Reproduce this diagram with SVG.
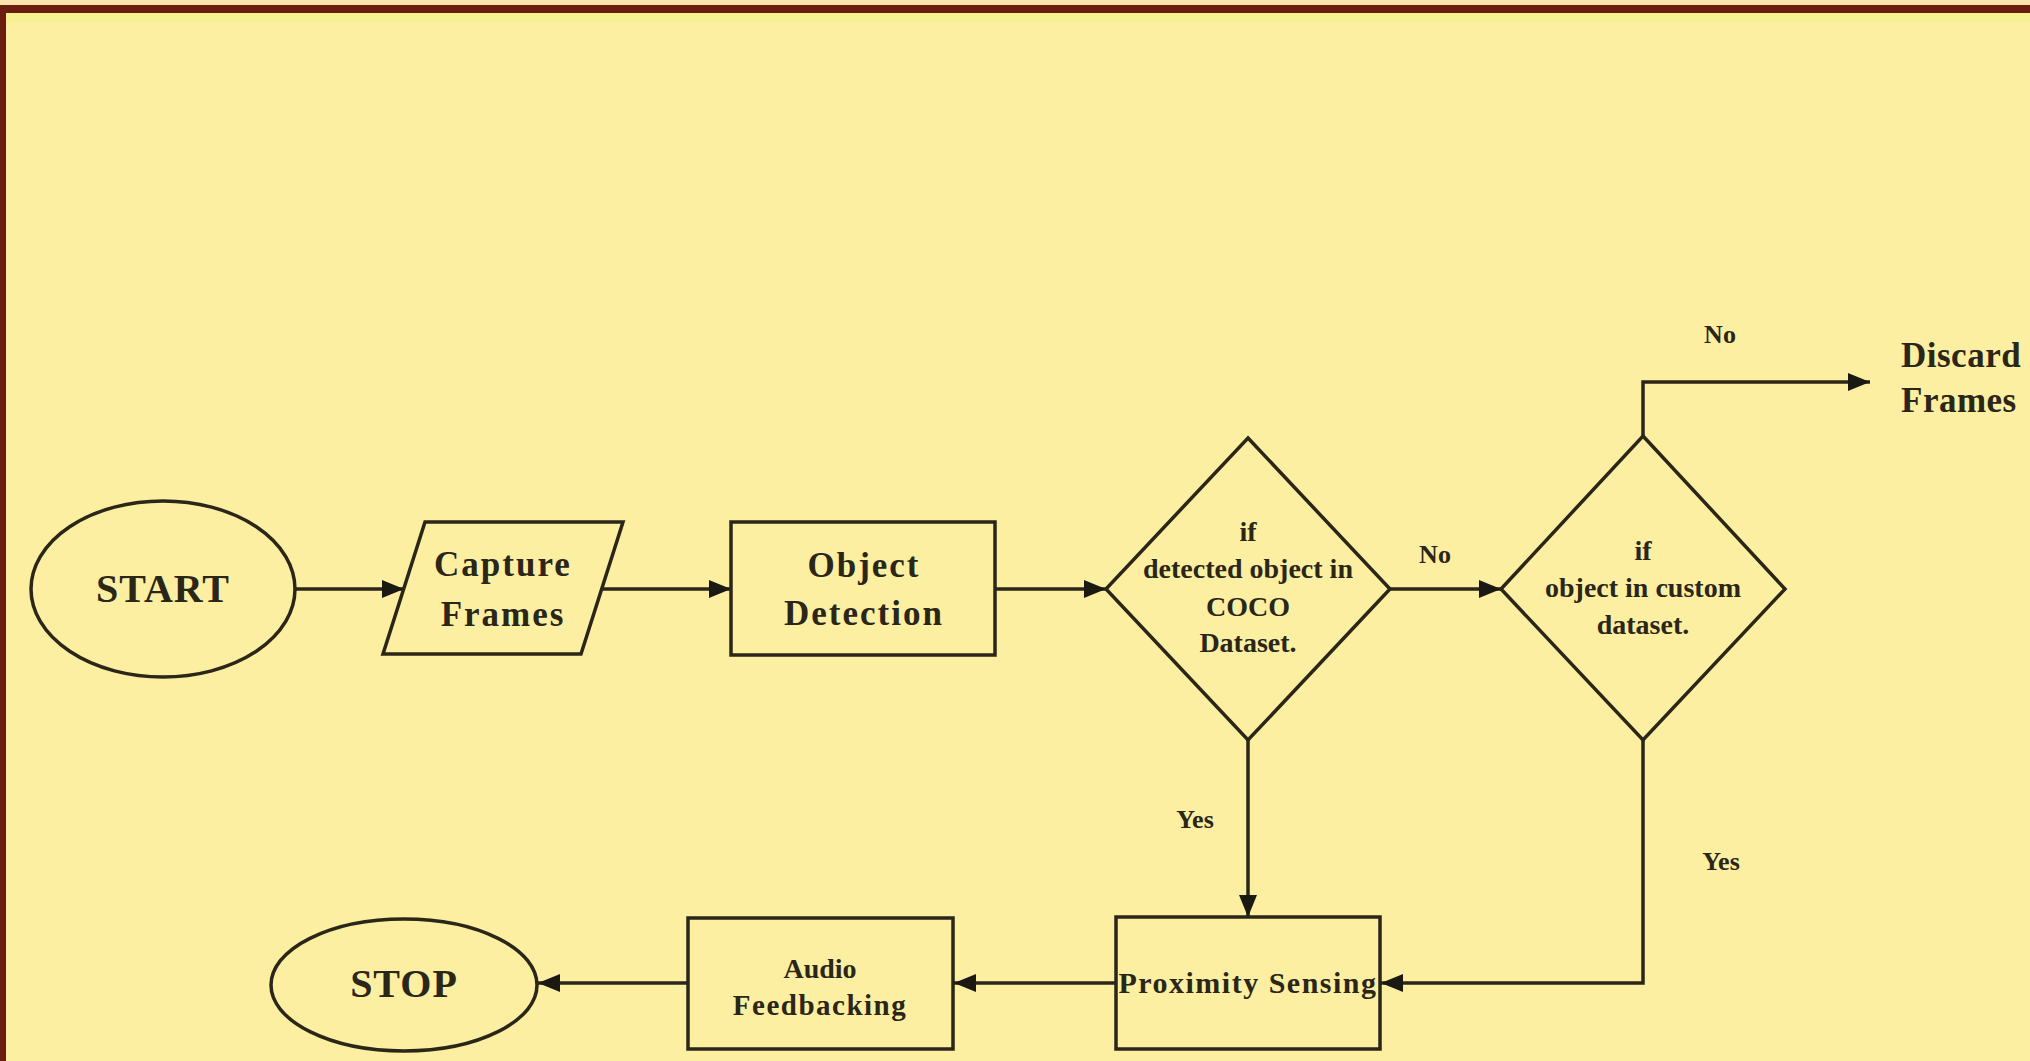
<svg xmlns="http://www.w3.org/2000/svg" width="2030" height="1061" viewBox="0 0 2030 1061">
  <style>
    .shape { fill: none; stroke: #2a2618; stroke-width: 3.5; }
    .conn { fill: none; stroke: #2a2618; stroke-width: 3.5; }
    .t { font-family: "Liberation Serif", "Times New Roman", serif; font-weight: bold; fill: #2a2618; text-anchor: middle; }
    .big { font-size: 40px; letter-spacing: 1px; }
    .mid { font-size: 35px; letter-spacing: 2px; }
    .sm { font-size: 28px; }
    .lbl { font-size: 26px; }
  </style>
  <defs>
    <marker id="arr" markerUnits="userSpaceOnUse" markerWidth="24" markerHeight="20" refX="22" refY="10" orient="auto">
      <path d="M0,1 L22,10 L0,19 Z" fill="#1a1a12"/>
    </marker>
  </defs>
  <rect x="0" y="0" width="2030" height="1061" fill="#FDEFA2"/>
  <rect x="0" y="0" width="2030" height="5" fill="#FBE3AE"/>
  <rect x="0" y="13" width="2030" height="9" fill="#F6F090"/>
  <rect x="0" y="5" width="2030" height="8" fill="#6B1E10"/>
  <rect x="0" y="5" width="6" height="1056" fill="#6B1E10"/>

  <g id="connectors">
    <path class="conn" d="M295,589 H404" marker-end="url(#arr)"/>
    <path class="conn" d="M602,589 H731" marker-end="url(#arr)"/>
    <path class="conn" d="M995,589 H1106" marker-end="url(#arr)"/>
    <path class="conn" d="M1390,589 H1501" marker-end="url(#arr)"/>
    <path class="conn" d="M1643,436 V382 H1870" marker-end="url(#arr)"/>
    <path class="conn" d="M1248,740 V917" marker-end="url(#arr)"/>
    <path class="conn" d="M1643,740 V983 H1381" marker-end="url(#arr)"/>
    <path class="conn" d="M1116,983 H954" marker-end="url(#arr)"/>
    <path class="conn" d="M688,983 H538" marker-end="url(#arr)"/>
    <text class="t lbl" x="1435" y="563">No</text>
    <text class="t lbl" x="1720" y="343">No</text>
    <text class="t lbl" x="1195" y="828">Yes</text>
    <text class="t lbl" x="1721" y="870">Yes</text>
  </g>

  <g id="start">
    <ellipse class="shape" cx="163" cy="589" rx="132" ry="88"/>
    <text class="t big" x="163" y="602">START</text>
  </g>

  <g id="capture">
    <polygon class="shape" points="425,522 623,522 581,654 383,654"/>
    <text class="t mid" x="503" y="576">Capture</text>
    <text class="t mid" x="503" y="626">Frames</text>
  </g>

  <g id="detection">
    <rect class="shape" x="731" y="522" width="264" height="133"/>
    <text class="t mid" x="864" y="577">Object</text>
    <text class="t mid" x="864" y="625">Detection</text>
  </g>

  <g id="coco">
    <polygon class="shape" points="1248,438 1390,589 1248,740 1106,589"/>
    <text class="t sm" x="1248" y="541">if</text>
    <text class="t sm" x="1248" y="578">detected object in</text>
    <text class="t sm" x="1248" y="616">COCO</text>
    <text class="t sm" x="1248" y="652">Dataset.</text>
  </g>

  <g id="custom">
    <polygon class="shape" points="1643,436 1785,589 1643,740 1501,589"/>
    <text class="t sm" x="1643" y="560">if</text>
    <text class="t sm" x="1643" y="597">object in custom</text>
    <text class="t sm" x="1643" y="634">dataset.</text>
  </g>

  <g id="discard">
    <text class="t mid" x="1901" y="367" style="text-anchor:start;letter-spacing:0.5px">Discard</text>
    <text class="t mid" x="1901" y="412" style="text-anchor:start;letter-spacing:0.5px">Frames</text>
  </g>

  <g id="proximity">
    <rect class="shape" x="1116" y="917" width="264" height="132"/>
    <text class="t" x="1248" y="993" style="font-size:30px;letter-spacing:1.5px">Proximity Sensing</text>
  </g>

  <g id="audio">
    <rect class="shape" x="688" y="918" width="265" height="131"/>
    <text class="t" x="820" y="978" style="font-size:28px">Audio</text>
    <text class="t" x="820" y="1015" style="font-size:29px;letter-spacing:1.5px">Feedbacking</text>
  </g>

  <g id="stop">
    <ellipse class="shape" cx="404" cy="985" rx="133" ry="66"/>
    <text class="t big" x="404" y="997">STOP</text>
  </g>
</svg>
